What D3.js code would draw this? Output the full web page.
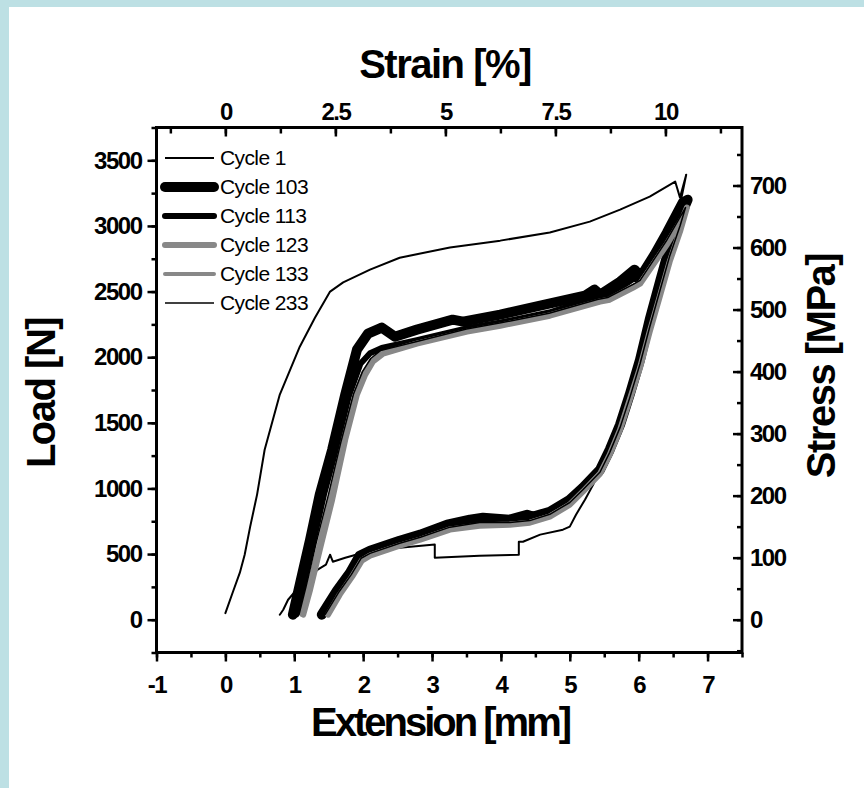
<!DOCTYPE html>
<html><head><meta charset="utf-8">
<script src="https://cdn.jsdelivr.net/npm/d3@7"></script>
<style>
html,body{margin:0;padding:0;background:#fff;}
svg{display:block;}
</style></head>
<body>
<script>
// ---------- DATA ----------
const extTicks = [-1, 0, 1, 2, 3, 4, 5, 6, 7];
const loadTicks = [0, 500, 1000, 1500, 2000, 2500, 3000, 3500];
const stressTicks = [0, 100, 200, 300, 400, 500, 600, 700];
const strainTicks = [0, 2.5, 5, 7.5, 10];
const strainTickLabels = ["0", "2.5", "5", "7.5", "10"];
const seriesNames = ["Cycle 1", "Cycle 103", "Cycle 113", "Cycle 123", "Cycle 133", "Cycle 233"];

// [extension mm, load N]
const cycle1 = [[0.00,50],[0.11,213],[0.21,358],[0.28,495],[0.36,709],[0.46,953],[0.57,1295],[0.79,1715],[1.08,2080],[1.30,2300],[1.52,2500],[1.71,2570],[2.10,2667],[2.53,2758],[3.26,2835],[3.99,2888],[4.71,2950],[5.29,3033],[5.73,3124],[6.16,3223],[6.53,3338],[6.60,3216],[6.69,3390],
 [6.60,3162],[6.45,2896],[6.31,2591],[6.16,2286],[6.02,1996],[5.87,1737],[5.73,1524],[5.58,1334],[5.44,1158],[5.34,1029],[5.22,914],[5.09,800],[5.00,709],[4.90,686],[4.57,648],[4.32,594],[4.26,594],[4.26,495],[3.69,488],[3.04,472],[3.04,572],[2.53,549],[2.05,518],[1.74,472],[1.56,442],[1.52,495],[1.46,419],[1.34,381],[1.16,305],[1.01,213],[0.91,152],[0.84,76],[0.79,38]];

const cycle103 = [[0.98,38],[1.08,267],[1.23,610],[1.37,953],[1.55,1295],[1.74,1715],[1.91,2057],[2.07,2179],[2.27,2225],[2.46,2156],[2.78,2210],[3.30,2286],[3.45,2271],[3.99,2324],[4.57,2393],[5.22,2469],[5.36,2515],[5.44,2477],[5.73,2576],[5.94,2667],[6.03,2614],[6.23,2781],[6.41,2949],[6.64,3178],[6.71,3200],
 [6.60,3063],[6.45,2842],[6.31,2576],[6.16,2286],[6.02,1981],[5.87,1715],[5.73,1486],[5.58,1295],[5.44,1143],[5.19,1006],[5.00,914],[4.71,823],[4.47,785],[4.38,800],[4.13,762],[3.74,777],[3.55,762],[3.22,724],[2.83,648],[2.53,602],[2.10,526],[1.95,488],[1.81,358],[1.62,221],[1.40,38]];

const cycle113 = [[1.03,40],[1.13,260],[1.28,600],[1.43,950],[1.60,1290],[1.79,1700],[1.96,1950],[2.10,2030],[2.27,2070],[2.78,2130],[3.50,2220],[4.00,2265],[4.70,2340],[5.35,2450],[5.45,2430],[5.93,2600],[6.03,2580],[6.40,2900],[6.66,3150],
 [6.60,3040],[6.45,2810],[6.31,2550],[6.16,2260],[6.02,1960],[5.87,1700],[5.73,1470],[5.58,1280],[5.44,1130],[5.19,995],[5.00,900],[4.71,810],[4.45,770],[4.13,750],[3.74,760],[3.55,745],[3.22,705],[2.83,632],[2.53,590],[2.10,512],[1.96,475],[1.82,350],[1.63,210],[1.42,35]];

const cycle123 = [[1.13,38],[1.23,229],[1.37,533],[1.55,914],[1.74,1372],[1.91,1715],[2.03,1867],[2.14,1966],[2.29,2027],[2.78,2103],[3.51,2195],[3.99,2240],[4.71,2316],[5.44,2423],[5.58,2438],[5.92,2530],[6.02,2560],[6.41,2858],[6.64,3063],[6.70,3140],
 [6.60,2957],[6.45,2728],[6.31,2469],[6.16,2195],[6.02,1920],[5.87,1676],[5.73,1448],[5.58,1257],[5.44,1113],[5.19,975],[5.00,876],[4.71,785],[4.42,739],[4.13,724],[3.69,716],[3.26,686],[2.83,610],[2.53,564],[2.10,488],[1.98,450],[1.84,328],[1.66,191],[1.49,38]];

const cycle133 = [[1.10,40],[1.20,250],[1.35,560],[1.52,930],[1.71,1380],[1.88,1720],[2.00,1880],[2.12,1975],[2.27,2035],[2.78,2110],[3.50,2200],[4.00,2250],[4.70,2325],[5.42,2430],[5.56,2445],[5.90,2540],[6.02,2570],[6.40,2870],[6.69,3120],
 [6.60,2970],[6.45,2740],[6.31,2480],[6.16,2205],[6.02,1930],[5.87,1685],[5.73,1455],[5.58,1265],[5.44,1120],[5.19,985],[5.00,885],[4.71,795],[4.42,745],[4.13,732],[3.69,725],[3.26,695],[2.83,618],[2.53,572],[2.10,496],[1.98,458],[1.84,335],[1.66,198],[1.48,40]];

const cycle233 = [[1.07,40],[1.17,250],[1.32,590],[1.49,940],[1.68,1360],[1.86,1720],[1.99,1890],[2.11,1990],[2.25,2050],[2.78,2120],[3.50,2215],[4.00,2262],[4.70,2335],[5.40,2440],[5.55,2455],[5.92,2555],[6.02,2585],[6.40,2885],[6.68,3140],
 [6.60,3000],[6.45,2770],[6.31,2510],[6.16,2230],[6.02,1950],[5.87,1690],[5.73,1465],[5.58,1275],[5.44,1125],[5.19,990],[5.00,893],[4.71,803],[4.42,755],[4.13,740],[3.69,740],[3.26,705],[2.83,628],[2.53,582],[2.10,505],[1.97,468],[1.83,345],[1.64,205],[1.45,40]];

// ---------- STYLE ----------
const styles = [
  {color:"#000", width:2},
  {color:"#000", width:10},
  {color:"#000", width:6},
  {color:"#888", width:6},
  {color:"#888", width:4},
  {color:"#000", width:1.5}
];
const allSeries = [cycle1, cycle103, cycle113, cycle123, cycle133, cycle233];

const W = 864, H = 788;
const L = 156.5, R = 742, T = 127.5, B = 652.5;
const svg = d3.select("body").append("svg").attr("width", W).attr("height", H);

svg.append("rect").attr("width", W).attr("height", H).attr("fill", "#bde0e4");
svg.append("rect").attr("x", 9).attr("y", 7).attr("width", W - 9).attr("height", H - 7).attr("fill", "#fff");

const x = d3.scaleLinear().domain([-1, 7.5]).range([L, R]);
const y = d3.scaleLinear().domain([-250, 3750]).range([B, T]);
const xTop = d3.scaleLinear().domain([-1.565, 11.74]).range([L, R]);
const yR = d3.scaleLinear().domain([-52.9, 793.5]).range([B, T]);

const font = "'Liberation Sans',Arial,sans-serif";
const intFmt = d => String(d);

// curves
const line = d3.line().x(d => x(d[0])).y(d => y(d[1]));
const plot = svg.append("g");
allSeries.forEach((s, i) => {
  plot.append("path").datum(s).attr("d", line)
    .attr("fill", "none").attr("stroke", styles[i].color)
    .attr("stroke-width", styles[i].width)
    .attr("stroke-linejoin", "round").attr("stroke-linecap", "round");
});

// axes
function styleAxis(g) {
  g.select(".domain").remove();
  g.selectAll("line").attr("stroke", "#000").attr("stroke-width", 2.5);
  g.selectAll("text").attr("font-family", font).attr("font-weight", "bold").attr("font-size", 24).attr("fill", "#000").attr("letter-spacing", "-1.5");
}
// bottom
const gB = svg.append("g").attr("transform", `translate(0,${B})`);
gB.call(d3.axisBottom(x).tickValues(d3.range(-1, 7.51, 0.5)).tickSize(5).tickFormat(""));
const gB2 = svg.append("g").attr("transform", `translate(0,${B})`);
gB2.call(d3.axisBottom(x).tickValues(extTicks).tickSize(9).tickPadding(14).tickFormat(intFmt));
[gB, gB2].forEach(styleAxis);

// top
const gT = svg.append("g").attr("transform", `translate(0,${T})`);
gT.call(d3.axisBottom(xTop).tickValues(d3.range(-1.25, 11.3, 1.25)).tickSize(6).tickFormat(""));
const gT2 = svg.append("g").attr("transform", `translate(0,${T})`);
gT2.call(d3.axisTop(xTop).tickValues(strainTicks).tickSize(0).tickPadding(8).tickFormat((d, i) => strainTickLabels[i]));
const gT3 = svg.append("g").attr("transform", `translate(0,${T})`);
gT3.call(d3.axisBottom(xTop).tickValues(strainTicks).tickSize(9).tickFormat(""));
[gT, gT2, gT3].forEach(styleAxis);

// left
const gL = svg.append("g").attr("transform", `translate(${L},0)`);
gL.call(d3.axisLeft(y).tickValues(d3.range(-250, 3751, 250)).tickSize(5).tickFormat(""));
const gL2 = svg.append("g").attr("transform", `translate(${L},0)`);
gL2.call(d3.axisLeft(y).tickValues(loadTicks).tickSize(9).tickPadding(6).tickFormat(intFmt));
[gL, gL2].forEach(styleAxis);

// right
const gR = svg.append("g").attr("transform", `translate(${R},0)`);
gR.call(d3.axisLeft(yR).tickValues(d3.range(-50, 791, 50)).tickSize(5).tickFormat(""));
const gR2 = svg.append("g").attr("transform", `translate(${R},0)`);
gR2.call(d3.axisLeft(yR).tickValues(stressTicks).tickSize(9).tickFormat(""));
const gR3 = svg.append("g").attr("transform", `translate(${R},0)`);
gR3.call(d3.axisRight(yR).tickValues(stressTicks).tickSize(0).tickPadding(8).tickFormat(intFmt));
[gR, gR2, gR3].forEach(styleAxis);

// frame
svg.append("rect").attr("x", L).attr("y", T).attr("width", R - L).attr("height", B - T)
  .attr("fill", "none").attr("stroke", "#000").attr("stroke-width", 3);

// titles
function title(txt, tx, ty, rot, ls) {
  svg.append("text").attr("transform", `translate(${tx},${ty}) rotate(${rot})`)
    .attr("text-anchor", "middle").attr("font-family", font).attr("font-weight", "bold")
    .attr("font-size", 40).attr("letter-spacing", ls).attr("fill", "#000").text(txt);
}
title("Strain [%]", 445, 78, 0, "-1.5");
title("Extension [mm]", 440, 736, 0, "-3");
title("Load [N]", 55, 393, -90, "-1.5");
title("Stress [MPa]", 835, 366, -90, "-1.5");

// legend
const leg = svg.append("g");
seriesNames.forEach((n, i) => {
  const yy = 158 + i * 29;
  leg.append("line").attr("x1", 165).attr("x2", 214).attr("y1", yy).attr("y2", yy)
    .attr("stroke", styles[i].color).attr("stroke-width", styles[i].width)
    .attr("stroke-linecap", i === 0 || i === 5 ? "butt" : "round");
  leg.append("text").attr("x", 220).attr("y", yy).attr("dy", "0.35em")
    .attr("font-family", font).attr("font-size", 21)
    .attr("letter-spacing", "-0.6").attr("fill", "#000").text(n);
});
</script>
</body></html>
